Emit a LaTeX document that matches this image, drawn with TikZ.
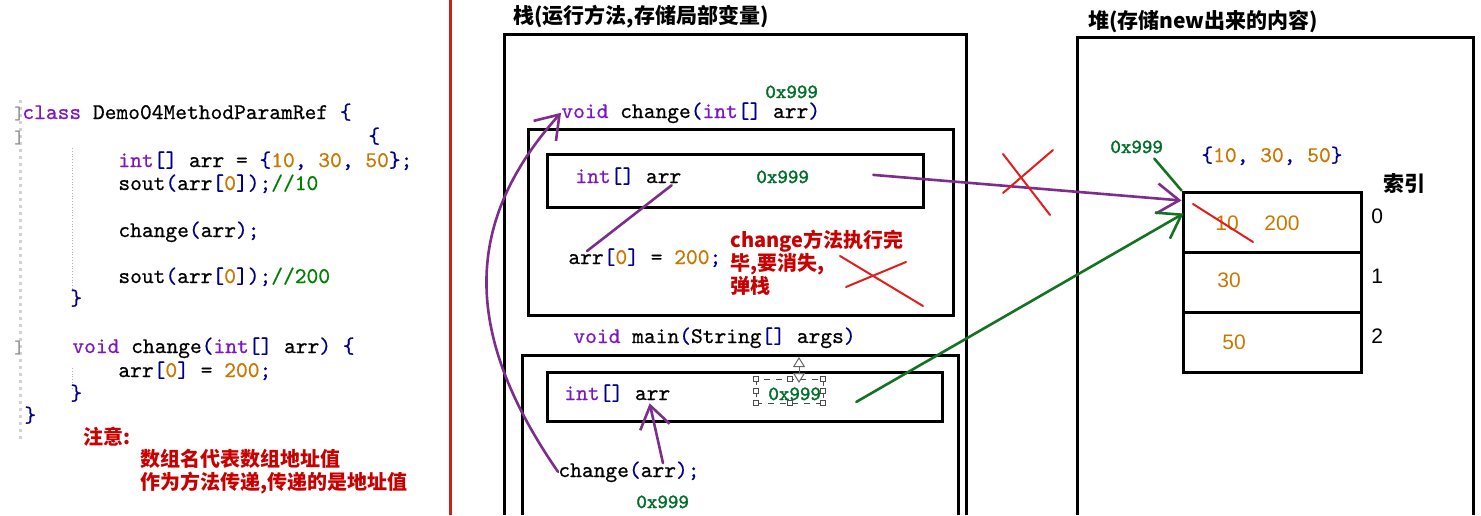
\documentclass[tikz,border=0pt]{standalone}
\usepackage{fontspec}
\newfontfamily\cjk{Noto Sans CJK SC}
\newfontfamily\arialfont{Liberation Sans}
\newfontfamily\codefont{lmmono10-regular.otf}[FakeBold=0.6]
\newfontfamily\addrfont{lmmono10-regular.otf}[FakeBold=1.8]
\usetikzlibrary{arrows.meta,calc}
\definecolor{kwpurple}{RGB}{125,20,200}
\definecolor{numorange}{RGB}{200,120,0}
\definecolor{bracketblue}{RGB}{0,0,140}
\definecolor{cmtgreen}{RGB}{0,128,0}
\definecolor{addrgreen}{RGB}{0,110,40}
\definecolor{notered}{RGB}{200,0,0}
\definecolor{crossred}{RGB}{225,30,30}
\definecolor{divred}{RGB}{200,35,25}
\definecolor{strokepurple}{RGB}{125,45,140}
\definecolor{strokegreen}{RGB}{20,115,35}
\newcommand{\kw}[1]{\textcolor{kwpurple}{#1}}
\newcommand{\nm}[1]{\textcolor{numorange}{#1}}
\newcommand{\bk}[1]{\textcolor{bracketblue}{#1}}
\newcommand{\cmt}[1]{\textcolor{cmtgreen}{#1}}
\tikzset{
  code/.style={anchor=base west, inner sep=0pt, font=\fontsize{11.2}{13}\codefont},
  addr/.style={anchor=base west, inner sep=0pt, text=addrgreen, font=\fontsize{10}{12}\addrfont},
  note/.style={anchor=base west, inner sep=0pt, text=notered, font=\fontsize{10}{12}\cjk\bfseries},
  title/.style={anchor=base west, inner sep=0pt, font=\fontsize{10.5}{12}\cjk\bfseries},
  val/.style={anchor=base west, inner sep=0pt, text=numorange, font=\fontsize{10.5}{12}\arialfont},
  frame/.style={line width=1.5pt},
  cell/.style={draw, line width=1.5pt, minimum width=89pt, minimum height=30pt, inner sep=0pt},
  hand/.style={line width=1.3pt, line cap=round},
  barb/.style={hand, -{Straight Barb[length=11pt,width=15pt]}},
  cross/.style={crossred, line width=1pt, line cap=round}
}
\begin{document}
\begin{tikzpicture}[x=0.5pt,y=-0.5pt]
\useasboundingbox (0,0) rectangle (1481,515);
% editor gutter
\draw[gray!35, dotted, line width=1.5pt] (20,100) -- (20,440);
\draw[gray!60, densely dotted] (72,148) -- (72,292);
\draw[gray!60, densely dotted] (72,368) -- (72,388);
\foreach \y in {119,143,353}
  \node[anchor=base west, inner sep=0pt, text=gray, font=\fontsize{9}{10}\ttfamily] at (14,\y) {]};
% code
\node[code] (l1) at (22,119) {\kw{class} Demo04MethodParamRef \bk{\{}};
\node[code] (l2) at (368,143) {\bk{\{}};
\node[code] (l3) at (118,167) {\kw{int}\bk{[]} arr = \bk{\{}\nm{10}\bk{,} \nm{30}\bk{,} \nm{50}\bk{\};}};
\node[code] (l4) at (118,190) {sout\bk{(}arr\bk{[}\nm{0}\bk{]);}\cmt{//10}};
\node[code] (l5) at (118,237) {change\bk{(}arr\bk{);}};
\node[code] (l6) at (118,283) {sout\bk{(}arr\bk{[}\nm{0}\bk{]);}\cmt{//200}};
\node[code] (l7) at (70,305) {\bk{\}}};
\node[code] (l8) at (72,353) {\kw{void} change\bk{(}\kw{int}\bk{[]} arr\bk{) \{}};
\node[code] (l9) at (118,377) {arr\bk{[}\nm{0}\bk{]} = \nm{200}\bk{;}};
\node[code] (l10) at (70,400) {\bk{\}}};
\node[code] (l11) at (24,422) {\bk{\}}};
\node[note] (hint) at (83,444) {注意:};
\node[note] (hint1) at (140,466) {数组名代表数组地址值};
\node[note] (hint2) at (140,489) {作为方法传递,传递的是地址值};
% divider
\draw[divred, line width=1.5pt] (450,0) -- (450,515);
% stack
\node[title] (stacktitle) at (513,23) {栈(运行方法,存储局部变量)};
\draw[frame] (504,515) |- (966,34) -- (966,515);
\node[code] (chead) at (561,118) {\kw{void} change\bk{(}\kw{int}\bk{[]} arr\bk{)}};
\node[addr] (cparam) at (765,98) {0x999};
\draw[frame] (528,129) rectangle (953,315);
\draw[frame] (547,154) rectangle (923,207);
\node[code] (carr) at (575,183) {\kw{int}\bk{[]} arr};
\node[addr] (cval) at (756,183) {0x999};
\node[code] (asg) at (568,264) {arr\bk{[}\nm{0}\bk{]} = \nm{200}\bk{;}};
\node[note] (pop1) at (730,247) {change方法执行完};
\node[note] (pop2) at (730,270) {毕,要消失,};
\node[note] (pop3) at (730,293) {弹栈};
\coordinate (popx) at (881,281);
\draw[cross] ($(popx)+(-41,-25)$) -- ($(popx)+(42,25)$);
\draw[cross] ($(popx)+(-35,6)$) -- ($(popx)+(25,-19)$);
\node[code] (mhead) at (573,343) {\kw{void} main\bk{(}String\bk{[]} args\bk{)}};
\draw[frame] (522,515) |- (958,355) -- (958,515);
\draw[frame] (547,372) rectangle (942,421);
\node[code] (marr) at (564,400) {\kw{int}\bk{[]} arr};
\node[addr] (mval) at (768,400) {0x999};
\node[code] (call) at (558,477) {change\bk{(}arr\bk{);}};
\node[addr] (callval) at (636,508) {0x999};
% selection handles
\draw[black!70, dashed, line width=0.4pt] ($(mval.base west)+(-12,-21)$) rectangle ($(mval.base west)+(55,3)$);
\foreach \dx/\dy in {-12/-21,21.5/-21,55/-21,-12/-9,55/-9,-12/3,21.5/3,55/3}
  \draw[black!70, fill=white, line width=0.4pt] ($(mval.base west)+(\dx,\dy)$) +(-2.5,-2.5) rectangle +(2.5,2.5);
\draw[black!60, line width=0.5pt, {Triangle[open,length=5pt,width=6pt]}-{Triangle[open,length=5pt,width=6pt]}] ($(mval.base west)+(31,-43)$) -- ($(mval.base west)+(31,-17)$);
% heap
\node[title] (heaptitle) at (1088,28) {堆(存储new出来的内容)};
\draw[frame] (1077,515) |- (1473,37) -- (1473,515);
\node[addr] (hval) at (1110,153) {0x999};
\node[code] (lit) at (1201,162) {\bk{\{}\nm{10}\bk{,} \nm{30}\bk{,} \nm{50}\bk{\}}};
\foreach \i in {0,1,2} {
  \node[cell] (cell\i) at (1272,222+60*\i) {};
  \node[anchor=base west, inner sep=0pt, font=\fontsize{10.5}{12}\arialfont] (idx\i) at (1371,223+60*\i) {\i};
}
\node[title] (idxtitle) at (1383,191) {索引};
\node[val] (v10) at (1215,230) {10};
\node[val] (v200) at (1264,230) {200};
\node[val] (v30) at (1217,287) {30};
\node[val] (v50) at (1222,349) {50};
\draw[cross] ($(v10.base west)+(-22,-26)$) -- ($(v10.base west)+(38,12)$);
% references
\draw[strokepurple, hand] ($(carr.south east)+(-10,0)$) -- ($(asg.north west)+(19,3)$);
\draw[strokepurple, barb] ($(cval.east)+(64,-2)$) -- ($(cell0.north west)+(0,10)$);
\coordinate (linkx) at (1028,182);
\draw[cross] ($(linkx)+(-25,-28)$) -- ($(linkx)+(22,33)$);
\draw[cross] ($(linkx)+(-25,11)$) -- ($(linkx)+(25,-32)$);
\draw[strokegreen, hand] ($(hval.south east)+(-9,5)$) -- (cell0.north west);
\draw[strokegreen, barb] ($(mval.east)+(35,8)$) -- ($(cell0.north west)+(2,23)$);
\draw[strokepurple, barb] ($(call.north)+(34,2)$) -- ($(marr.south east)+(-21,1)$);
\draw[strokepurple, barb] (call.west) .. controls (460,330) and (465,220) .. (chead.west);
\end{tikzpicture}
\end{document}
